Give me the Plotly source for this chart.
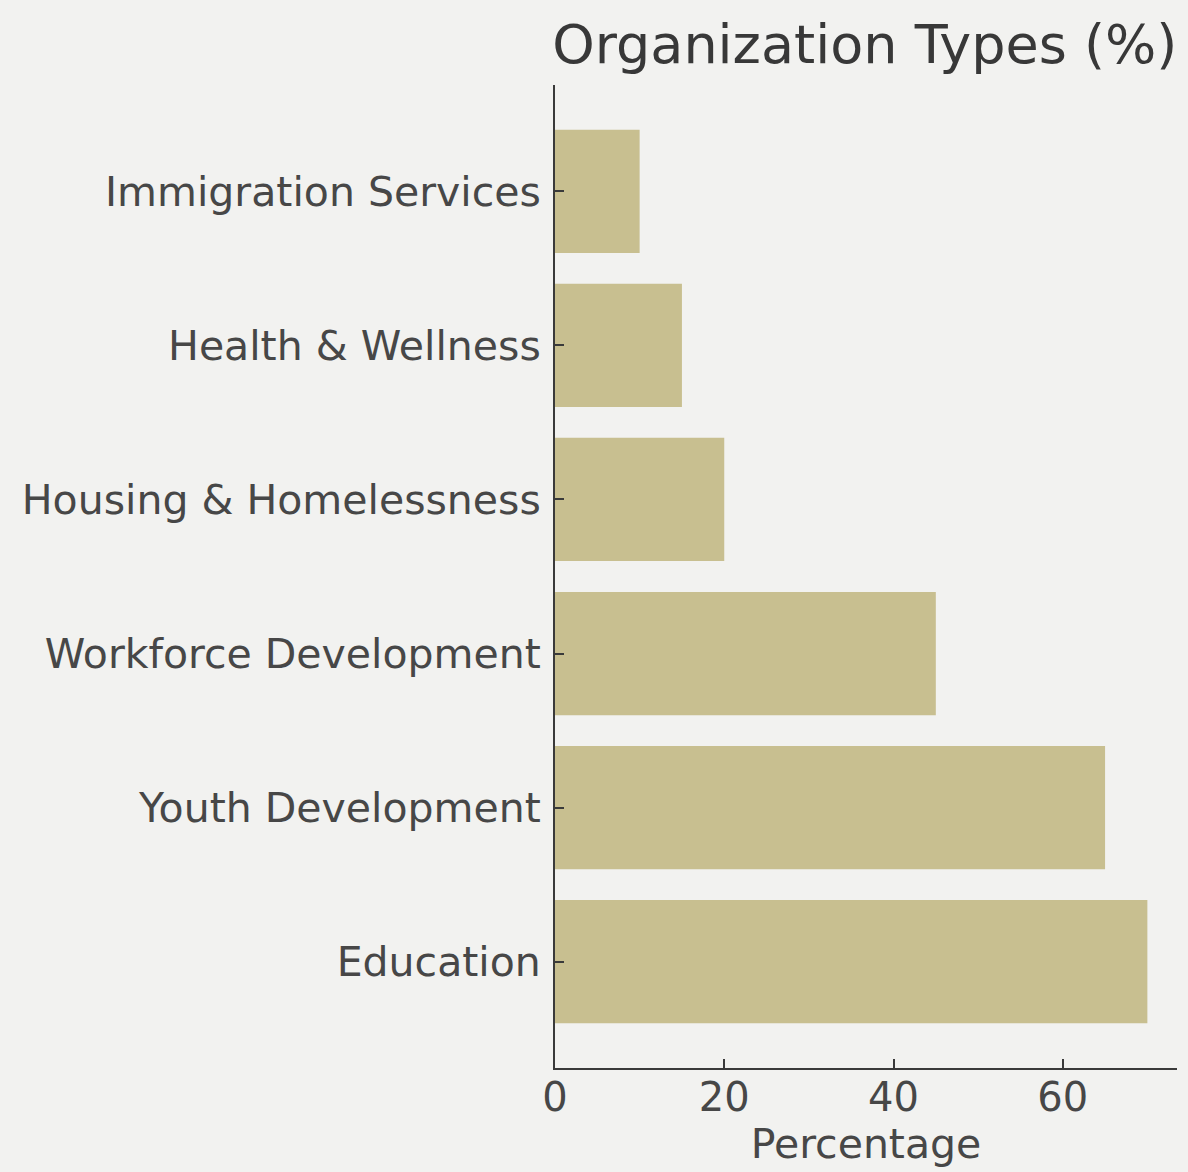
import plotly.graph_objects as go

# Share of organizations by type, bottom-to-top order on the y axis
categories = [
    "Education",
    "Youth Development",
    "Workforce Development",
    "Housing & Homelessness",
    "Health & Wellness",
    "Immigration Services",
]
percentages = [70, 65, 45, 20, 15, 10]
x_ticks = [0, 20, 40, 60]

BG = "#f2f2f0"
BAR = "#c8bf90"
INK = "#3a3a3a"
LABEL = "#474747"
FONT = "DejaVu Sans"

fig = go.Figure(
    go.Bar(
        x=percentages,
        y=categories,
        orientation="h",
        width=0.8,
        marker=dict(color=BAR, line=dict(width=0)),
        hoverinfo="x+y",
    )
)

fig.update_layout(
    width=1188,
    height=1172,
    paper_bgcolor=BG,
    plot_bgcolor=BG,
    margin=dict(l=555, r=11, t=85, b=104),
    showlegend=False,
    font=dict(family=FONT, color=LABEL, size=41),
    title=dict(
        text="Organization Types (%)",
        font=dict(family=FONT, size=54, color="#383838"),
        x=0.728,
        xanchor="center",
        y=0.962,
        yanchor="middle",
    ),
)

fig.update_xaxes(
    range=[0, 73.5],
    tickvals=x_ticks,
    ticktext=[str(v) for v in x_ticks],
    ticks="inside",
    ticklen=9,
    tickwidth=1.5,
    tickcolor=INK,
    showline=True,
    linecolor=INK,
    linewidth=2,
    showgrid=False,
    zeroline=False,
    tickfont=dict(size=40, color=LABEL),
    ticklabelstandoff=-7,
    title=dict(text="Percentage", font=dict(size=41, color=LABEL), standoff=4),
)

fig.update_yaxes(
    type="category",
    categoryorder="array",
    categoryarray=categories,
    range=[-0.69, 5.69],
    ticks="inside",
    ticklen=9,
    tickwidth=1.5,
    tickcolor=INK,
    showline=True,
    linecolor=INK,
    linewidth=2,
    showgrid=False,
    zeroline=False,
    tickfont=dict(size=41, color=LABEL),
    ticklabelstandoff=4,
)

fig.write_html("out.html")
